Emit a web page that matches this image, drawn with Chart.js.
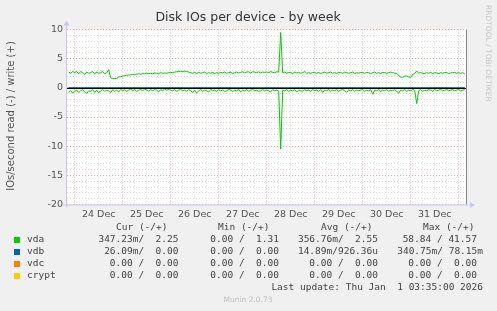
<!DOCTYPE html>
<html>
<head>
<meta charset="utf-8">
<script src="https://cdn.jsdelivr.net/npm/chart.js@4/dist/chart.umd.min.js"></script>
<style>
  html, body { margin: 0; padding: 0; background: #f0f0f0; }
  #wrap { width: 497px; height: 311px; }
</style>
</head>
<body>
<div id="wrap"><canvas id="myChart" width="497" height="311"></canvas></div>
<script>
// Hours are counted from 23 Dec 00:00
const startHour = 21; // first hourly sample of vda
const dayLabels = ['24 Dec', '25 Dec', '26 Dec', '27 Dec', '28 Dec', '29 Dec', '30 Dec', '31 Dec'];
const yTickLabels = [10, 5, 0, -5, -10, -15, -20];

// vda write (+), one value per hour
const vdaWrite = [
  2.7, 2.5, 2.8,
  2.6, 2.8, 2.4, 2.8, 2.6, 2.3, 2.7, 2.5, 2.6, 2.8, 2.4, 2.7, 2.5, 2.6, 2.8, 2.4, 2.6, 3.1, 1.7, 1.6, 1.6, 1.6, 1.85, 1.9,
  2.0, 2.1, 2.15, 2.2, 2.25, 2.3, 2.3, 2.35, 2.4, 2.35, 2.45, 2.4, 2.5, 2.45, 2.5, 2.4, 2.55, 2.5, 2.45, 2.6, 2.5, 2.55, 2.5, 2.6,
  2.6, 2.65, 2.7, 2.75, 2.8, 2.85, 2.8, 2.85, 2.8, 2.7, 2.6, 2.5, 2.65, 2.45, 2.65, 2.5, 2.6, 2.7, 2.45, 2.6, 2.5, 2.65, 2.45, 2.6,
  2.5, 2.65, 2.55, 2.7, 2.5, 2.6, 2.7, 2.45, 2.6, 2.7, 2.55, 2.65, 2.75, 2.6, 2.7, 2.75, 2.55, 2.75, 2.7, 2.6, 2.75, 2.55, 2.7, 2.65,
  2.7, 2.6, 2.8, 2.65, 2.6, 2.75, 2.7, 9.5, 2.6, 2.7, 2.5, 2.65, 2.6, 2.45, 2.7, 2.55, 2.65, 2.5, 2.6, 2.8, 2.5, 2.6, 2.45, 2.65,
  2.6, 2.5, 2.65, 2.45, 2.6, 2.7, 2.5, 2.6, 2.7, 2.5, 2.6, 2.45, 2.65, 2.6, 2.5, 2.7, 2.6, 2.5, 2.6, 2.7, 2.45, 2.6, 2.5, 2.65,
  2.6, 2.5, 2.65, 2.6, 2.45, 2.6, 2.7, 2.5, 2.6, 2.45, 2.65, 2.6, 2.5, 2.6, 2.7, 2.6, 2.5, 2.5, 2.1, 1.85, 1.8, 2.0, 2.05, 1.85,
  1.8, 2.3, 2.45, 2.9, 2.5, 2.6, 2.5, 2.45, 2.6, 2.5, 2.65, 2.45, 2.6, 2.55, 2.45, 2.6, 2.5, 2.65, 2.6, 2.45, 2.55, 2.6, 2.65, 2.5,
  2.6, 2.5, 2.6, 2.4
];

// vda read (-), one value per hour
const vdaRead = [
  -0.8, -0.5, -0.9,
  -0.6, -0.4, -0.8, -0.5, -0.3, -0.7, -1.0, -0.5, -0.6, -0.3, -0.8, -0.4, -0.9, -0.5, -0.3, -0.6, -0.4, -0.5, -0.8, -0.3, -0.6, -0.4, -0.7, -0.3,
  -0.5, -0.3, -0.6, -0.4, -0.2, -0.5, -0.3, -0.6, -0.4, -0.3, -0.5, -0.2, -0.4, -0.6, -0.3, -0.5, -0.3, -0.4, -0.7, -0.3, -0.5, -0.2, -0.4, -0.3,
  -0.4, -0.5, -0.3, -0.6, -0.4, -0.3, -0.5, -0.4, -0.6, -0.3, -0.5, -0.8, -0.4, -0.9, -0.5, -0.3, -0.6, -0.4, -0.5, -0.7, -0.3, -0.5, -0.4, -0.6,
  -0.3, -0.5, -0.4, -0.6, -0.5, -0.3, -0.4, -0.6, -0.4, -0.5, -0.3, -0.7, -0.4, -0.5, -0.3, -0.6, -0.4, -0.3, -0.5, -0.4, -0.6, -0.5, -0.3, -0.5,
  -0.4, -0.5, -0.7, -0.3, -0.5, -0.4, -0.6, -10.5, -0.4, -0.5, -0.3, -0.6, -0.4, -0.5, -0.3, -0.7, -0.4, -0.5, -0.6, -0.3, -0.5, -0.4, -0.6, -0.3,
  -0.5, -0.4, -0.6, -0.3, -0.8, -0.4, -0.5, -0.3, -0.6, -0.4, -0.5, -0.3, -0.6, -0.4, -0.3, -0.5, -0.7, -0.4, -0.5, -0.3, -0.6, -0.4, -0.5, -0.4,
  -0.3, -0.6, -0.4, -0.5, -0.3, -1.1, -0.4, -0.5, -0.3, -0.6, -0.4, -0.5, -0.3, -0.6, -0.4, -0.5, -0.3, -0.6, -0.9, -0.4, -0.5, -0.3, -0.6, -0.4,
  -0.5, -0.3, -0.4, -2.7, -0.5, -0.3, -0.6, -0.4, -0.5, -0.3, -0.4, -0.6, -0.3, -0.5, -0.4, -0.3, -0.5, -0.4, -0.3, -0.5, -0.4, -0.3, -0.5, -0.4,
  -0.3, -0.5, -0.4, -0.3
];

// vdb, one value every 6 hours
const vdbHours = [21, 27, 33, 39, 45, 51, 57, 63, 69, 75, 81, 87, 93, 99, 105, 111, 117, 123, 129, 135, 141, 147, 153, 159, 165, 171, 177, 183, 189, 195, 201, 207, 213, 219];
const vdbRead = [-0.02, -0.05, -0.01, -0.08, -0.02, -0.03, -0.01, -0.06, -0.02, -0.01, -0.04, -0.02, -0.07, -0.01, -0.03, -0.02, -0.05, -0.01, -0.09, -0.02, -0.03, -0.01, -0.06, -0.02, -0.04, -0.01, -0.08, -0.02, -0.03, -0.05, -0.01, -0.02, -0.06, -0.03];
const vdbWrite = [0.01, 0.0, 0.0, 0.01, 0.0, 0.0, 0.0, 0.01, 0.0, 0.0, 0.0, 0.0, 0.01, 0.0, 0.0, 0.0, 0.0, 0.0, 0.01, 0.0, 0.0, 0.0, 0.0, 0.0, 0.01, 0.0, 0.0, 0.0, 0.0, 0.0, 0.0, 0.01, 0.0, 0.0];

// vdc and crypt stayed at zero all week
const flatHours = [21, 219];
const vdcValues = [0, 0];
const cryptValues = [0, 0];

// legend table
const legendRows = [
  { name: 'vda',   color: '#00cc00', cur: '347.23m/  2.25', min: '0.00 /  1.31', avg: '356.76m/  2.55', max: '58.84 / 41.57' },
  { name: 'vdb',   color: '#0066b3', cur: '26.09m/  0.00',  min: '0.00 /  0.00', avg: '14.89m/926.36u', max: '340.75m/ 78.15m' },
  { name: 'vdc',   color: '#ff8000', cur: '0.00 /  0.00',   min: '0.00 /  0.00', avg: '0.00 /  0.00',   max: '0.00 /  0.00' },
  { name: 'crypt', color: '#ffcc00', cur: '0.00 /  0.00',   min: '0.00 /  0.00', avg: '0.00 /  0.00',   max: '0.00 /  0.00' },
];

function hourly(values) {
  return values.map((v, i) => ({ x: startHour + i, y: v }));
}
function paired(hours, values) {
  return hours.map((h, i) => ({ x: h, y: values[i] }));
}
function line(data, color) {
  return { data, borderColor: color, borderWidth: 1, pointRadius: 0, tension: 0, fill: false };
}

const MAJOR = 'rgba(240, 160, 160, 0.85)';
const MINOR = 'rgba(215, 215, 215, 0.85)';
const AXIS = '#c8c8f0';

// extra munin decorations: background, zero line, borders, texts and legend
const muninDecor = {
  id: 'muninDecor',
  beforeDraw(c) {
    const { ctx, chartArea: a } = c;
    ctx.save();
    ctx.fillStyle = '#f0f0f0';
    ctx.fillRect(0, 0, c.width, c.height);
    ctx.fillStyle = '#ffffff';
    ctx.fillRect(a.left, a.top, a.right - a.left, a.bottom - a.top);
    ctx.restore();
  },
  afterDatasetsDraw(c) {
    const { ctx, chartArea: a, scales } = c;
    const y0 = Math.round(scales.y.getPixelForValue(0)) + 0.5;
    ctx.save();
    ctx.strokeStyle = '#000';
    ctx.lineWidth = 1.2;
    ctx.beginPath();
    ctx.moveTo(a.left, y0);
    ctx.lineTo(a.right, y0);
    ctx.stroke();

    // right border
    ctx.strokeStyle = '#888';
    ctx.lineWidth = 1;
    ctx.beginPath();
    ctx.moveTo(a.right + 0.5, a.top);
    ctx.lineTo(a.right + 0.5, a.bottom);
    ctx.stroke();

    // axes with arrows
    ctx.strokeStyle = AXIS;
    ctx.fillStyle = AXIS;
    ctx.beginPath();
    ctx.moveTo(a.left - 0.5, a.bottom + 3);
    ctx.lineTo(a.left - 0.5, a.top - 4);
    ctx.moveTo(a.left - 4, a.bottom + 0.5);
    ctx.lineTo(a.right + 4, a.bottom + 0.5);
    ctx.stroke();
    ctx.beginPath();
    ctx.moveTo(a.left - 3.5, a.top - 4);
    ctx.lineTo(a.left + 2.5, a.top - 4);
    ctx.lineTo(a.left - 0.5, a.top - 9);
    ctx.closePath();
    ctx.fill();
    ctx.beginPath();
    ctx.moveTo(a.right + 4, a.bottom - 2.5);
    ctx.lineTo(a.right + 4, a.bottom + 3.5);
    ctx.lineTo(a.right + 9, a.bottom + 0.5);
    ctx.closePath();
    ctx.fill();
    ctx.restore();
  },
  afterDraw(c) {
    const { ctx } = c;
    ctx.save();
    ctx.fillStyle = '#333';
    ctx.textAlign = 'center';
    ctx.textBaseline = 'middle';
    ctx.font = '12.5px "DejaVu Sans"';
    ctx.fillText('Disk IOs per device - by week', 248, 18);

    // y axis title
    ctx.save();
    ctx.translate(11, 116);
    ctx.rotate(-Math.PI / 2);
    ctx.font = '10px "DejaVu Sans"';
    ctx.fillStyle = '#555';
    ctx.fillText('IOs/second read (-) / write (+)', 0, 0);
    ctx.restore();

    // rrdtool credit
    ctx.save();
    ctx.translate(488, 5);
    ctx.rotate(Math.PI / 2);
    ctx.textAlign = 'left';
    ctx.font = '7.5px "DejaVu Sans"';
    ctx.fillStyle = '#c8c8c8';
    ctx.fillText('RRDTOOL / TOBI OETIKER', 0, 0);
    ctx.restore();

    // legend table
    ctx.font = '9.5px "DejaVu Sans Mono"';
    ctx.fillStyle = '#444';
    ctx.textAlign = 'left';
    ctx.fillText('Cur (-/+)', 116, 228);
    ctx.fillText('Min (-/+)', 218, 228);
    ctx.fillText('Avg (-/+)', 321, 228);
    ctx.fillText('Max (-/+)', 423, 228);
    legendRows.forEach((r, i) => {
      const y = 240 + i * 12;
      ctx.fillStyle = r.color;
      ctx.fillRect(14, y - 3, 6, 6);
      ctx.fillStyle = '#444';
      ctx.textAlign = 'left';
      ctx.fillText(r.name, 27, y);
      ctx.textAlign = 'right';
      ctx.fillText(r.cur, 178.5, y);
      ctx.fillText(r.min, 279, y);
      ctx.fillText(r.avg, 378, y);
      ctx.fillText(r.max, r.max.length > 14 ? 483 : 477, y);
    });
    ctx.textAlign = 'right';
    ctx.fillText('Last update: Thu Jan  1 03:35:00 2026', 483, 288);

    ctx.textAlign = 'center';
    ctx.font = '7.5px "DejaVu Sans"';
    ctx.fillStyle = '#c0c0c0';
    ctx.fillText('Munin 2.0.73', 248, 300);
    ctx.restore();
  }
};

const xTicks = [];
for (let h = 24; h <= 216; h += 6) xTicks.push(h);
const yTicks = [];
for (let v = -20; v <= 10; v += 1) yTicks.push(v);

const ctx = document.getElementById('myChart').getContext('2d');
const chart = new Chart(ctx, {
  type: 'line',
  data: {
    datasets: [
      line(hourly(vdaRead), '#00cc00'),
      line(hourly(vdaWrite), '#00cc00'),
      line(paired(vdbHours, vdbRead), '#0066b3'),
      line(paired(vdbHours, vdbWrite), '#0066b3'),
      line(paired(flatHours, vdcValues), '#ff8000'),
      line(paired(flatHours, cryptValues), '#ffcc00'),
    ],
  },
  options: {
    responsive: false,
    animation: false,
    devicePixelRatio: 1,
    layout: { padding: { left: 0, top: 29.5, right: 31, bottom: 86.5 } },
    plugins: { legend: { display: false }, tooltip: { enabled: false }, title: { display: false } },
    scales: {
      x: {
        type: 'linear',
        min: 20.15,
        max: 219.65,
        afterBuildTicks: s => { s.ticks = xTicks.map(v => ({ value: v })); },
        afterFit: s => { s.height = 20; },
        ticks: {
          autoSkip: false,
          maxRotation: 0,
          padding: 4,
          color: '#555',
          font: { family: 'DejaVu Sans', size: 9.5 },
          callback: v => (v % 24 === 12 ? dayLabels[(v - 36) / 24] : ''),
        },
        grid: {
          color: c => (c.tick && c.tick.value % 24 === 0 ? MAJOR : MINOR),
          lineWidth: 1,
          drawTicks: false,
        },
        border: { display: false, dash: [1, 2] },
      },
      y: {
        type: 'linear',
        min: -20,
        max: 10,
        afterBuildTicks: s => { s.ticks = yTicks.map(v => ({ value: v })); },
        afterFit: s => { s.width = 67; },
        ticks: {
          autoSkip: false,
          padding: 4,
          color: '#555',
          font: { family: 'DejaVu Sans', size: 9.5 },
          callback: v => (yTickLabels.includes(v) ? String(v) : ''),
        },
        grid: {
          color: c => (c.tick && c.tick.value % 5 === 0 ? MAJOR : MINOR),
          lineWidth: 1,
          drawTicks: false,
        },
        border: { display: false, dash: [1, 2] },
      },
    },
  },
  plugins: [muninDecor],
});
</script>
</body>
</html>
